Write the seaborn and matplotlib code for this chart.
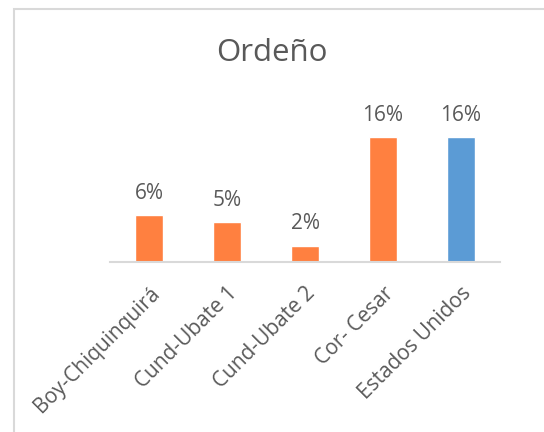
import numpy as np
import pandas as pd
import matplotlib
matplotlib.use("Agg")
import matplotlib.pyplot as plt
import seaborn as sns
from matplotlib.patches import Rectangle

# Data
categories = ["Boy-Chiquinquirá", "Cund-Ubate 1", "Cund-Ubate 2", "Cor- Cesar", "Estados Unidos"]
values = [0.060, 0.051, 0.021, 0.160, 0.160]
labels = ["6%", "5%", "2%", "16%", "16%"]
bar_colors = ["#FF8040", "#FF8040", "#FF8040", "#FF8040", "#5B9BD5"]

df = pd.DataFrame({"region": categories, "share": values})

sns.set_theme(style="white")
plt.rcParams["font.family"] = ["Open Sans", "DejaVu Sans"]

fig = plt.figure(figsize=(5.44, 4.32), dpi=100)
ax = fig.add_axes([110 / 544, 170 / 432, 390 / 544, 182 / 432])

sns.barplot(data=df, x="region", y="share", hue="region", palette=bar_colors,
            legend=False, width=0.35, saturation=1, ax=ax)

ax.set_xlim(-0.5, 4.5)
ax.set_ylim(0, 0.16 * 182 / 125)

for cont, lab in zip(ax.containers, labels):
    ax.bar_label(cont, labels=[lab], padding=8, fontsize=15, color="#595959")

ax.set_xlabel("")
ax.set_ylabel("")
ax.set_yticks([])
ax.tick_params(axis="x", length=0, pad=15)
plt.setp(ax.get_xticklabels(), rotation=45, ha="right", rotation_mode="anchor",
         fontsize=15, color="#595959")

for side in ["top", "right", "left"]:
    ax.spines[side].set_visible(False)
ax.spines["bottom"].set_color("#D9D9D9")
ax.spines["bottom"].set_linewidth(1.5)

fig.text(272 / 544, 1 - 53 / 432, "Ordeño", ha="center", va="center",
         fontsize=22.5, color="#595959")

# chart frame
fig.patches.append(Rectangle((14 / 544, -0.1), 1.2, 1 - 9 / 432 + 0.1,
                             transform=fig.transFigure, fill=False,
                             edgecolor="#D9D9D9", linewidth=1.5))

fig.savefig("out.png", dpi=100, facecolor="white")
